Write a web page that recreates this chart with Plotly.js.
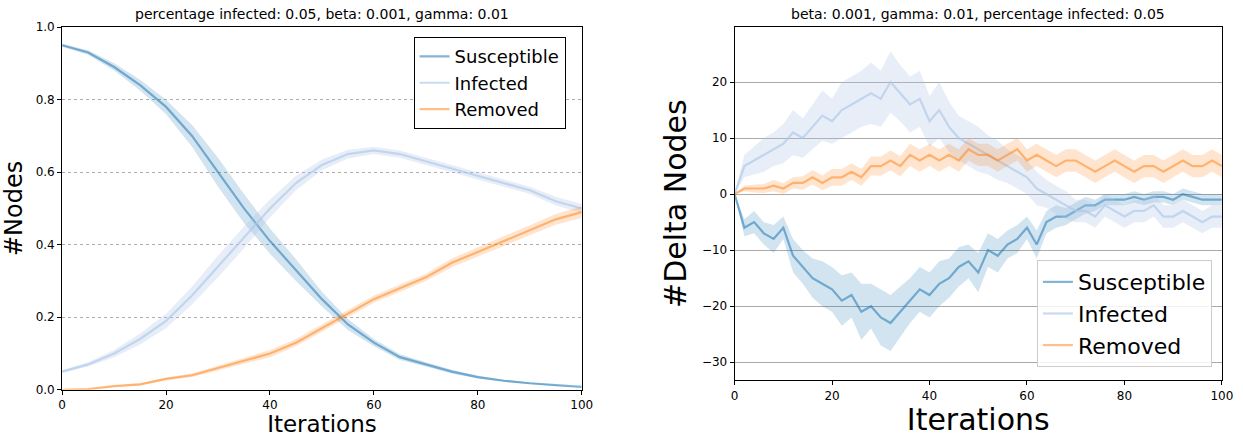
<!DOCTYPE html>
<html><head><meta charset="utf-8">
<script src="https://cdn.plot.ly/plotly-3.0.1.min.js"></script>
<style>body{margin:0}#chart{width:1243px;height:437px}</style>
</head><body><div id="chart"></div>
<script>
// left panel: fraction of nodes, every 5 iterations
const iterLeft = [0,5,10,15,20,25,30,35,40,45,50,55,60,65,70,75,80,85,90,95,100];
const susLeft = [0.95,0.93,0.89,0.84,0.78,0.70,0.60,0.50,0.41,0.33,0.25,0.18,0.13,0.09,0.07,0.05,0.035,0.025,0.018,0.012,0.008];
const susLeftErr = [0.004,0.006,0.01,0.015,0.02,0.03,0.04,0.04,0.035,0.03,0.02,0.015,0.01,0.008,0.006,0.005,0.004,0.003,0.002,0.002,0.001];
const infLeft = [0.05,0.07,0.10,0.14,0.19,0.26,0.34,0.42,0.50,0.57,0.62,0.65,0.66,0.65,0.63,0.61,0.59,0.57,0.55,0.52,0.50];
const infLeftErr = [0.004,0.006,0.01,0.015,0.02,0.025,0.03,0.03,0.025,0.02,0.015,0.012,0.01,0.01,0.01,0.01,0.01,0.01,0.01,0.012,0.012];
const remLeft = [0,0.002,0.01,0.015,0.03,0.04,0.06,0.08,0.10,0.13,0.17,0.21,0.25,0.28,0.31,0.35,0.38,0.41,0.44,0.47,0.49];
const remLeftErr = [0,0.001,0.002,0.003,0.004,0.005,0.006,0.008,0.01,0.01,0.01,0.01,0.01,0.01,0.01,0.012,0.012,0.013,0.014,0.015,0.016];

// right panel: delta nodes, every 2 iterations
const iterRight = [];
for (let i = 0; i <= 100; i += 2) iterRight.push(i);
const susRight = [0,-6,-5,-7,-8,-6,-11,-13,-15,-16,-17,-19,-18,-21,-20,-22,-23,-21,-19,-17,-18,-16,-15,-13,-12,-14,-10,-11,-9,-8,-6,-9,-5,-4,-4,-3,-2,-2,-1,-1,-1,-0.5,-1,-0.5,-0.5,-1,0,-0.5,-1,-1,-1];
const susRightErr = [0,1.5,2,2,2.5,2,3,3,3.5,4,4,4.5,4,5,4,5,5,4.5,4,4,4,4,3.5,3.5,3,3.5,3,3,2.5,2.5,2,2.5,2,2,1.5,1.5,1.5,1,1,1,1,1,1,1,1,1,1,1,1,1,1];
const infRight = [0,5,6,7,8,9,11,10,12,14,13,15,16,17,18,17,20,18,16,17,13,15,12,10,9,8,7,6,5,4,3,1,0,-1,-2,-3,-3,-4,-2,-3,-4,-3,-3,-2,-4,-4,-3,-4,-5,-4,-4];
const infRightErr = [0,2,2.5,3,3,3.5,4,3.5,4,4.5,4,5,5,5,5.5,5,5.5,5,5,5,4.5,5,4.5,4,4,4,3.5,3.5,3,3,3,3,2.5,2.5,2.5,2,2,2,2,2,2,2,2,2,2,2,2,2,2,2,2];
const remRight = [0,1,1,1,1.5,1,2,2,3,2,3,3,4,3,5,5,6,5,7,6,7,6,7,6,8,7,7,6,7,8,6,7,6,5,6,6,5,4,5,6,5,4,5,5,4,5,6,5,5,6,5];
const remRightErr = [0,0.5,0.7,0.8,1,1,1,1.2,1.3,1.3,1.5,1.5,1.5,1.5,1.7,1.7,1.8,1.8,2,2,2,2,2,2,2,2,2,2,2,2,2,2,2,2,2,2,2,2,2,2,2,2,2,2,2,2,2,2,2,2,2];

const series = [
  {name: 'Susceptible', line: 'rgba(31,119,180,0.55)', band: 'rgba(31,119,180,0.2)'},
  {name: 'Infected', line: 'rgba(174,199,232,0.65)', band: 'rgba(174,199,232,0.3)'},
  {name: 'Removed', line: 'rgba(255,127,14,0.5)', band: 'rgba(255,127,14,0.2)'}
];

function addSeries(traces, x, y, err, s, xa, ya, legend) {
  const up = y.map((v, i) => v + err[i]);
  const lo = y.map((v, i) => v - err[i]);
  traces.push({x: x.concat(x.slice().reverse()), y: up.concat(lo.reverse()),
    xaxis: xa, yaxis: ya, fill: 'toself', fillcolor: s.band, line: {width: 0},
    mode: 'lines', showlegend: false, hoverinfo: 'skip'});
  traces.push({x: x, y: y, xaxis: xa, yaxis: ya, mode: 'lines', name: s.name,
    line: {color: s.line, width: 2.2}, legend: legend});
}

const traces = [];
addSeries(traces, iterLeft, susLeft, susLeftErr, series[0], 'x', 'y', 'legend');
addSeries(traces, iterLeft, infLeft, infLeftErr, series[1], 'x', 'y', 'legend');
addSeries(traces, iterLeft, remLeft, remLeftErr, series[2], 'x', 'y', 'legend');
addSeries(traces, iterRight, susRight, susRightErr, series[0], 'x2', 'y2', 'legend2');
addSeries(traces, iterRight, infRight, infRightErr, series[1], 'x2', 'y2', 'legend2');
addSeries(traces, iterRight, remRight, remRightErr, series[2], 'x2', 'y2', 'legend2');

const font = {family: 'DejaVu Sans', color: '#000'};
const axBase = {showline: true, mirror: true, linecolor: '#000', linewidth: 1, ticks: 'outside',
  ticklen: 4, tickcolor: '#000', zeroline: false, tickfont: {size: 12}};

const layout = {
  width: 1243, height: 437, margin: {l: 0, r: 0, t: 0, b: 0},
  paper_bgcolor: '#fff', plot_bgcolor: '#fff', font: font,
  xaxis: Object.assign({}, axBase, {domain: [0.05, 0.468], range: [0, 100], dtick: 20, showgrid: false,
    title: {text: 'Iterations', font: {size: 23}, standoff: 6}}),
  yaxis: Object.assign({}, axBase, {domain: [0.108, 0.938], range: [0, 1], dtick: 0.2, tickformat: '.1f',
    showgrid: true, gridcolor: '#777', griddash: 'dot', gridwidth: 0.6,
    title: {text: '#Nodes', font: {size: 24}, standoff: 6}}),
  xaxis2: Object.assign({}, axBase, {anchor: 'y2', domain: [0.591, 0.983], range: [0, 100], dtick: 20, showgrid: false,
    title: {text: 'Iterations', font: {size: 30}, standoff: 4}}),
  yaxis2: Object.assign({}, axBase, {anchor: 'x2', domain: [0.13, 0.938], range: [-33.2, 29.8], dtick: 10,
    showgrid: true, gridcolor: '#aaa', gridwidth: 1,
    title: {text: '#Delta Nodes', font: {size: 30}, standoff: 6}}),
  legend: {x: 0.455, xanchor: 'right', y: 0.915, yanchor: 'top', bgcolor: '#fff', bordercolor: '#000',
    borderwidth: 1, font: {size: 18}},
  legend2: {x: 0.975, xanchor: 'right', y: 0.16, yanchor: 'bottom', bgcolor: 'rgba(255,255,255,0.85)',
    bordercolor: '#ccc', borderwidth: 1, font: {size: 22}},
  annotations: [
    {text: 'percentage infected: 0.05, beta: 0.001, gamma: 0.01', xref: 'paper', yref: 'paper',
      x: 0.259, y: 0.945, xanchor: 'center', yanchor: 'bottom', showarrow: false, font: {size: 14}},
    {text: 'beta: 0.001, gamma: 0.01, percentage infected: 0.05', xref: 'paper', yref: 'paper',
      x: 0.787, y: 0.945, xanchor: 'center', yanchor: 'bottom', showarrow: false, font: {size: 14}}
  ]
};

Plotly.newPlot('chart', traces, layout, {staticPlot: true});
</script></body></html>
